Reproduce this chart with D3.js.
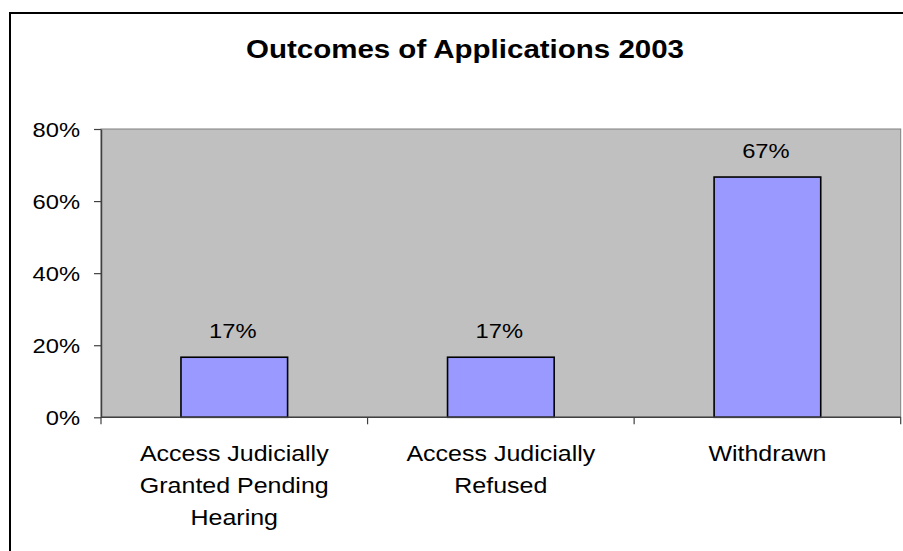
<!DOCTYPE html>
<html>
<head>
<meta charset="utf-8">
<script src="https://cdn.jsdelivr.net/npm/d3@7"></script>
<style>
  html, body { margin: 0; padding: 0; background: #fff; }
  svg { display: block; font-family: "Liberation Sans", Arial, sans-serif; }
</style>
</head>
<body>
<svg id="chart" width="903" height="551"></svg>
<script>
const title = "Outcomes of Applications 2003";
const categories = [
  "Access Judicially\nGranted Pending\nHearing",
  "Access Judicially\nRefused",
  "Withdrawn"
];
const values = [0.1667, 0.1667, 0.6667];
const valueLabels = ["17%", "17%", "67%"];
const yTicks = [0, 0.2, 0.4, 0.6, 0.8];

const svg = d3.select("#chart");
const W = 903, H = 551;
const plot = { left: 101, top: 129, right: 900.7, bottom: 417.3 };

// horizontal widening of text to match the reference rendering
function widen(sel, factor) {
  sel.each(function () {
    const n = this.getComputedTextLength();
    d3.select(this).attr("textLength", n * factor).attr("lengthAdjust", "spacingAndGlyphs");
  });
}

// Outer chart border
svg.append("rect")
  .attr("x", 10).attr("y", 13)
  .attr("width", W + 20).attr("height", H + 20)
  .attr("fill", "#fff").attr("stroke", "#000").attr("stroke-width", 2);

const x = d3.scaleBand().domain(d3.range(categories.length))
  .range([plot.left, plot.right]).paddingInner(0).paddingOuter(0);
const y = d3.scaleLinear().domain([0, 0.8]).range([plot.bottom, plot.top]);

// Plot area
svg.append("rect")
  .attr("x", plot.left).attr("y", plot.top)
  .attr("width", plot.right - plot.left).attr("height", plot.bottom - plot.top)
  .attr("fill", "#C0C0C0").attr("stroke", "#808080").attr("stroke-width", 1);

// Bars
const barW = x.bandwidth() * 0.4;
svg.append("g").selectAll("rect").data(values).join("rect")
  .attr("x", (d, i) => x(i) + (x.bandwidth() - barW) / 2)
  .attr("y", d => y(d))
  .attr("width", barW)
  .attr("height", d => y(0) - y(d))
  .attr("fill", "#9999FF").attr("stroke", "#000").attr("stroke-width", 1.6);

// Y axis
const yAxis = d3.axisLeft(y).tickValues(yTicks).tickFormat(d3.format(".0%"))
  .tickSize(7).tickSizeOuter(0).tickPadding(14);
const gy = svg.append("g").attr("transform", `translate(${plot.left},0)`).call(yAxis);
gy.select(".domain").attr("stroke", "#404040").attr("stroke-width", 1.5);
gy.selectAll(".tick line").attr("stroke", "#404040").attr("stroke-width", 1.2);
gy.selectAll(".tick text").attr("font-size", 21).attr("fill", "#000")
  .attr("font-family", "Liberation Sans, Arial, sans-serif").attr("dy", "0.36em");
widen(gy.selectAll(".tick text"), 1.13);

// X axis line and ticks at band boundaries
const xb = svg.append("g");
xb.append("line").attr("x1", plot.left).attr("x2", plot.right)
  .attr("y1", y(0)).attr("y2", y(0)).attr("stroke", "#404040").attr("stroke-width", 1.5);
const bounds = d3.range(categories.length + 1).map(i => i < categories.length ? x(i) : x(i - 1) + x.bandwidth());
xb.selectAll("line.t").data(bounds).join("line").attr("class", "t")
  .attr("x1", d => d).attr("x2", d => d)
  .attr("y1", y(0)).attr("y2", y(0) + 7).attr("stroke", "#404040").attr("stroke-width", 1.2);

// Category labels
const cl = svg.append("g").attr("font-size", 22.5).attr("text-anchor", "middle").attr("fill", "#000");
categories.forEach((c, i) => {
  c.split("\n").forEach((ln, j) => {
    cl.append("text").attr("x", x(i) + x.bandwidth() / 2).attr("y", 460.5 + j * 32.2).text(ln);
  });
});
widen(cl.selectAll("text"), 1.11);

// Value labels
const vl = svg.append("g").attr("font-size", 21).attr("text-anchor", "middle").selectAll("text")
  .data(values).join("text")
  .attr("x", (d, i) => x(i) + x.bandwidth() / 2 - 1.5)
  .attr("y", d => y(d) - 19.5)
  .text((d, i) => valueLabels[i]);
widen(vl, 1.13);

// Title
const tt = svg.append("text").attr("x", 465).attr("y", 58).attr("text-anchor", "middle")
  .attr("font-size", 25).attr("font-weight", "bold").text(title);
tt.attr("textLength", 438).attr("lengthAdjust", "spacingAndGlyphs");
</script>
</body>
</html>
